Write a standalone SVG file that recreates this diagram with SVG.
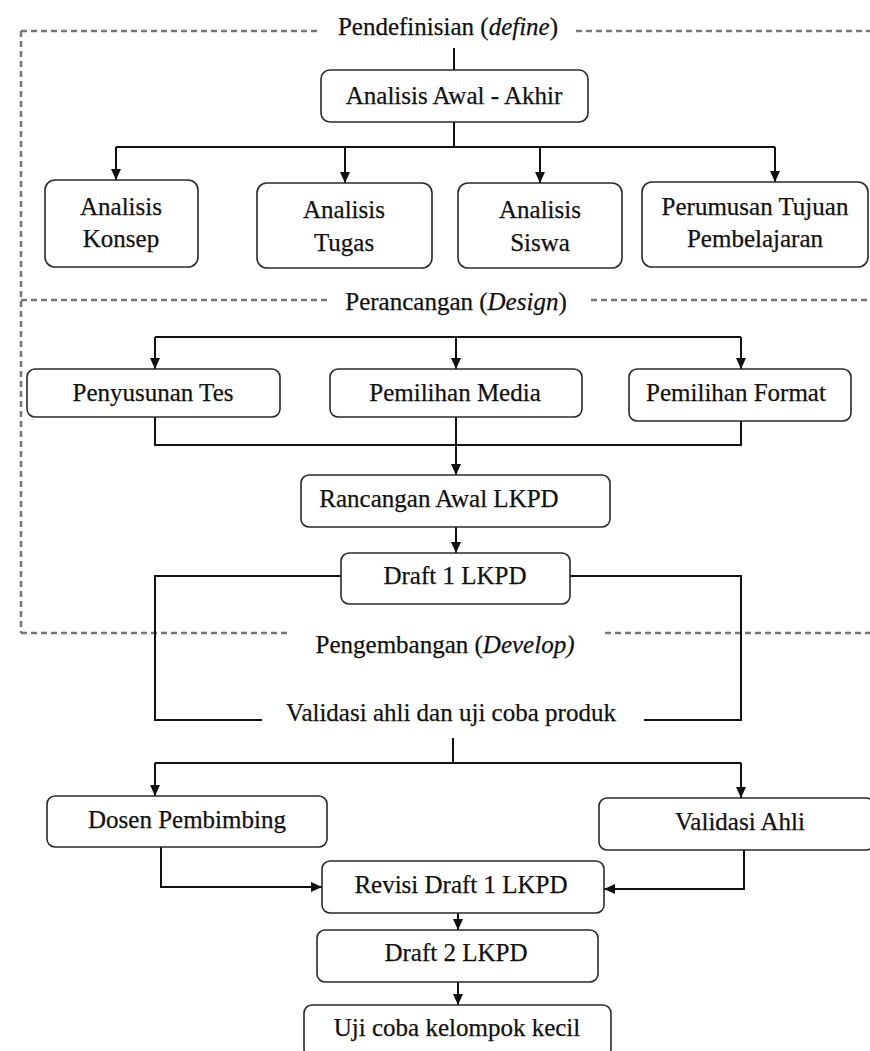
<svg xmlns="http://www.w3.org/2000/svg" width="870" height="1051" viewBox="0 0 870 1051">
<style>
.bg{fill:#fff}
.box{fill:#fff;stroke:#2a2a2a;stroke-width:1.6}
.t{font-family:"Liberation Serif","Times New Roman",serif;font-size:25px;fill:#111;stroke:#111;stroke-width:0.25;text-anchor:middle}
.c{fill:none;stroke:#111;stroke-width:2}
.d{fill:none;stroke:#777;stroke-width:2.5;stroke-dasharray:6 4}
</style>
<defs>
<marker id="ah" markerUnits="userSpaceOnUse" markerWidth="12" markerHeight="12" refX="11" refY="5" orient="auto">
<path d="M0,0 L11,5 L0,10 Z" fill="#111"/>
</marker>
</defs>
<rect class="bg" width="870" height="1051"/>

<g id="phases">
<path class="d" d="M21,31 H318 M576,31 H870 M21,31 V633"/>
<path class="d" d="M21,300 H327 M591,300 H870"/>
<path class="d" d="M21,633 H291 M605,633 H870"/>
<text class="t" x="448" y="35">Pendefinisian (<tspan font-style="italic">define</tspan>)</text>
<text class="t" x="456" y="310">Perancangan (<tspan font-style="italic">Design</tspan>)</text>
<text class="t" x="445" y="653">Pengembangan (<tspan font-style="italic">Develop)</tspan></text>
</g>

<g id="connectors">
<path class="c" d="M454,48 V70"/>
<path class="c" d="M454,122 V147 M116,147 H775"/>
<path class="c" d="M116,147 V180" marker-end="url(#ah)"/>
<path class="c" d="M345,147 V183" marker-end="url(#ah)"/>
<path class="c" d="M540,147 V183" marker-end="url(#ah)"/>
<path class="c" d="M775,147 V182" marker-end="url(#ah)"/>
<path class="c" d="M155,337 H741"/>
<path class="c" d="M155,337 V369" marker-end="url(#ah)"/>
<path class="c" d="M456,337 V369" marker-end="url(#ah)"/>
<path class="c" d="M741,337 V369" marker-end="url(#ah)"/>
<path class="c" d="M155,417 V445 H741 V421"/>
<path class="c" d="M456,417 V475" marker-end="url(#ah)"/>
<path class="c" d="M456,527 V553" marker-end="url(#ah)"/>
<path class="c" d="M341,576 H155 V720 H262"/>
<path class="c" d="M570,576 H741 V720 H644"/>
<path class="c" d="M453,738 V763 M155,763 H741"/>
<path class="c" d="M155,763 V796" marker-end="url(#ah)"/>
<path class="c" d="M741,763 V798" marker-end="url(#ah)"/>
<path class="c" d="M161,847 V887 H322" marker-end="url(#ah)"/>
<path class="c" d="M744,850 V889 H604" marker-end="url(#ah)"/>
<path class="c" d="M458,913 V930" marker-end="url(#ah)"/>
<path class="c" d="M458,982 V1005" marker-end="url(#ah)"/>
</g>

<g id="analisis-awal-akhir"><rect class="box" x="321" y="70" width="267" height="52" rx="9"/><text class="t" x="454" y="104">Analisis Awal - Akhir</text></g>
<g id="analisis-konsep"><rect class="box" x="45" y="180" width="153" height="87" rx="10"/><text class="t" x="121" y="215">Analisis</text><text class="t" x="121" y="247">Konsep</text></g>
<g id="analisis-tugas"><rect class="box" x="257" y="183" width="175" height="85" rx="10"/><text class="t" x="344" y="218">Analisis</text><text class="t" x="344" y="251">Tugas</text></g>
<g id="analisis-siswa"><rect class="box" x="458" y="183" width="164" height="85" rx="10"/><text class="t" x="540" y="218">Analisis</text><text class="t" x="540" y="251">Siswa</text></g>
<g id="perumusan-tujuan"><rect class="box" x="642" y="182" width="226" height="85" rx="10"/><text class="t" x="755" y="215">Perumusan Tujuan</text><text class="t" x="755" y="247">Pembelajaran</text></g>

<g id="penyusunan-tes"><rect class="box" x="27" y="369" width="253" height="48" rx="8"/><text class="t" x="153" y="401">Penyusunan Tes</text></g>
<g id="pemilihan-media"><rect class="box" x="330" y="369" width="252" height="48" rx="8"/><text class="t" x="455" y="401">Pemilihan Media</text></g>
<g id="pemilihan-format"><rect class="box" x="629" y="369" width="222" height="52" rx="8"/><text class="t" x="736" y="401">Pemilihan Format</text></g>
<g id="rancangan-awal"><rect class="box" x="301" y="475" width="309" height="52" rx="8"/><text class="t" x="439" y="507">Rancangan Awal LKPD</text></g>
<g id="draft-1"><rect class="box" x="341" y="553" width="229" height="51" rx="8"/><text class="t" x="455" y="584">Draft 1 LKPD</text></g>

<g id="validasi-uji-coba"><text class="t" x="451" y="721">Validasi ahli dan uji coba produk</text></g>

<g id="dosen-pembimbing"><rect class="box" x="47" y="796" width="280" height="51" rx="8"/><text class="t" x="187" y="828">Dosen Pembimbing</text></g>
<g id="validasi-ahli"><rect class="box" x="599" y="798" width="275" height="52" rx="8"/><text class="t" x="740" y="830">Validasi Ahli</text></g>
<g id="revisi-draft-1"><rect class="box" x="322" y="861" width="282" height="52" rx="8"/><text class="t" x="461" y="893">Revisi Draft 1 LKPD</text></g>
<g id="draft-2"><rect class="box" x="317" y="930" width="281" height="52" rx="8"/><text class="t" x="456" y="961">Draft 2 LKPD</text></g>
<g id="uji-coba-kecil"><rect class="box" x="304" y="1005" width="307" height="52" rx="8"/><text class="t" x="457" y="1036">Uji coba kelompok kecil</text></g>
</svg>
